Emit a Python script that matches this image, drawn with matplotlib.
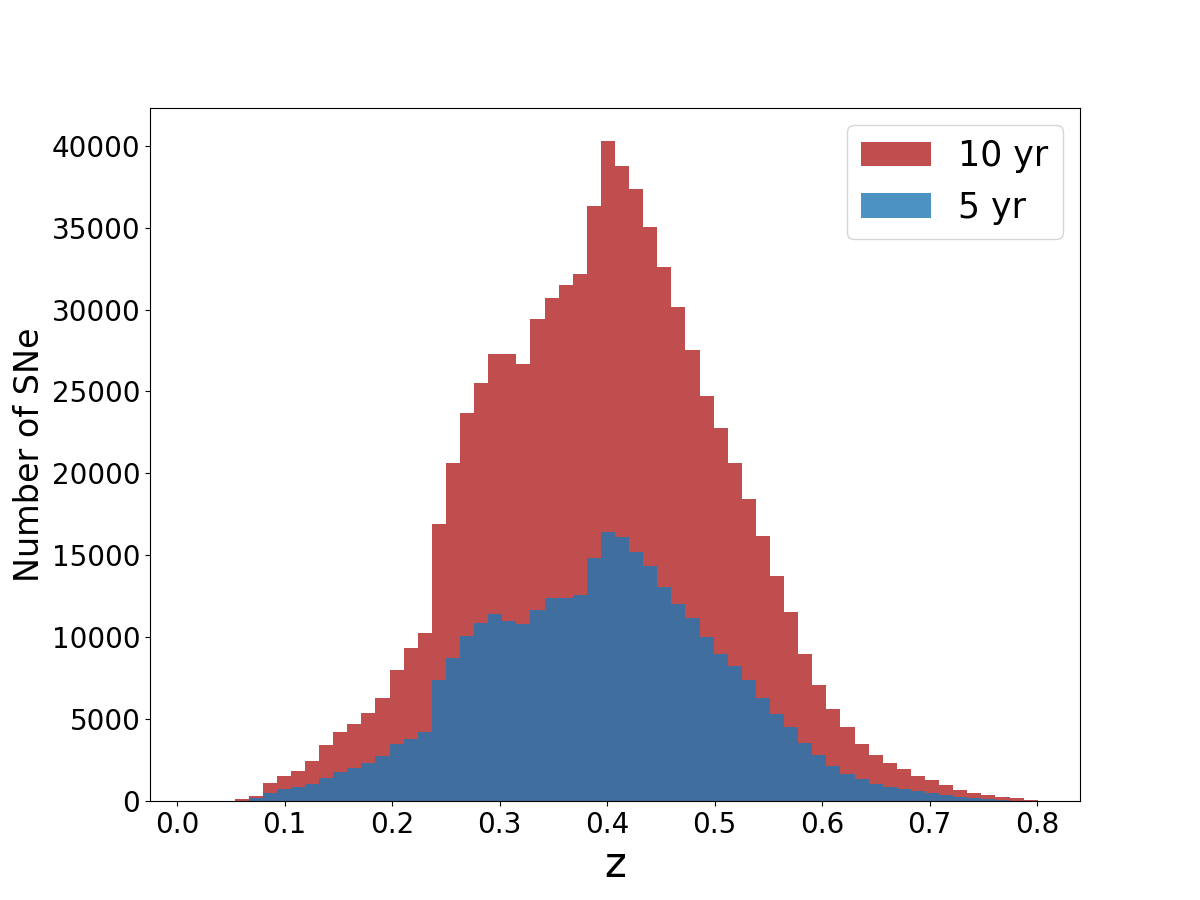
import numpy as np
import matplotlib
matplotlib.use("Agg")
import matplotlib.pyplot as plt

# Histogram bin range (redshift) and counts per bin (60 bins)
z_min, z_max, n_bins = 0.014, 0.8005, 60

counts_10yr = [0, 0, 0, 100, 300, 1100, 1545, 1830, 2440, 3420,
               4210, 4700, 5370, 6290, 8000, 9340, 10260, 16910, 20630, 23690,
               25520, 27290, 27290, 26680, 29430, 30710, 31500, 32170, 36320, 40290,
               38770, 37360, 35040, 32600, 30160, 27530, 24730, 22770, 20630, 18440,
               16180, 13740, 11540, 8970, 7080, 5620, 4520, 3480, 2810, 2320,
               1950, 1530, 1280, 980, 670, 490, 370, 240, 180, 60]

counts_5yr = [0, 0, 0, 20, 200, 490, 730, 855, 1060, 1420,
              1790, 2040, 2320, 2770, 3500, 3790, 4230, 7390, 8730, 10070,
              10870, 11420, 10990, 10810, 11660, 12380, 12400, 12580, 14830, 16420,
              16120, 15200, 14350, 13060, 12030, 11170, 10010, 8970, 8240, 7390,
              6290, 5310, 4520, 3540, 2810, 2140, 1650, 1340, 1040, 855,
              730, 610, 490, 370, 240, 180, 120, 60, 30, 10]

labels = ["10 yr", "5 yr"]

edges = np.linspace(z_min, z_max, n_bins + 1)
centers = 0.5 * (edges[:-1] + edges[1:])

fig, ax = plt.subplots(figsize=(12, 9), dpi=100)
ax.hist(centers, bins=edges, weights=counts_10yr, color="firebrick", alpha=0.8, label=labels[0])
ax.hist(centers, bins=edges, weights=counts_5yr, color="tab:blue", alpha=0.8, label=labels[1])

ax.set_xlabel("z", fontsize=30)
ax.set_ylabel("Number of SNe", fontsize=24)
ax.tick_params(axis="both", labelsize=20)
ax.legend(fontsize=25, loc="upper right")

fig.savefig("out.png", dpi=100)
